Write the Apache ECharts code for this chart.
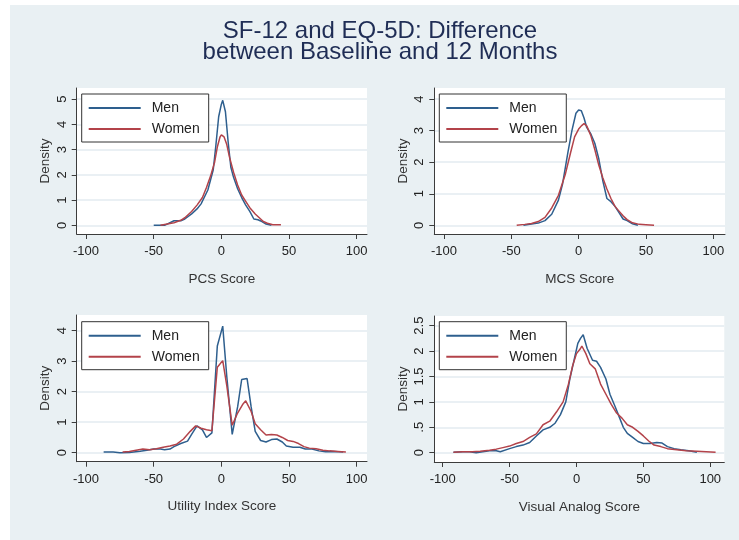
<!DOCTYPE html>
<html>
<head>
<meta charset="utf-8">
<script src="https://cdn.jsdelivr.net/npm/echarts@6/dist/echarts.min.js"></script>
<style>
  body { margin: 0; background: #fff; }
  #wrap { position: relative; width: 739px; height: 540px; background: #fff; }
  #bg { position: absolute; left: 10px; top: 5px; right: 0; bottom: 0; background: #e9f0f3; }
  #chart { position: absolute; left: 0; top: 0; width: 739px; height: 540px; }
</style>
</head>
<body>
<div id="wrap"><div id="bg"></div><div id="chart"></div></div>
<script>
// kernel density estimates: [score difference, density]
var pcsMen = [[-50,0],[-42,0],[-35,0.18],[-30,0.18],[-27,0.25],[-22,0.45],[-18,0.65],[-15,0.85],[-10,1.4],[-6,2.2],[-4,3.2],[-2,4.3],[0,4.8],[1,4.95],[3,4.5],[5,3.3],[7,2.3],[9,1.9],[12,1.45],[15,1.1],[18,0.8],[21,0.55],[24,0.25],[27,0.22],[30,0.15],[33,0.05],[37,0]];
var pcsWomen = [[-45,0],[-40,0.05],[-35,0.1],[-30,0.2],[-27,0.3],[-22,0.55],[-18,0.8],[-14,1.1],[-11,1.5],[-8,1.95],[-5,2.5],[-3,3.1],[-1,3.5],[0,3.58],[2,3.5],[4,3.2],[6,2.7],[9,2.1],[12,1.6],[15,1.2],[18,0.95],[21,0.7],[25,0.45],[28,0.3],[31,0.15],[34,0.08],[38,0.02],[44,0.02]];

var mcsMen = [[-41,0],[-35,0.04],[-30,0.07],[-25,0.15],[-20,0.35],[-15,0.8],[-12,1.3],[-8,2.3],[-5,3.0],[-2,3.55],[0,3.65],[2,3.63],[4,3.4],[6,3.1],[9,2.9],[12,2.6],[15,2.1],[18,1.4],[21,0.85],[24,0.75],[27,0.6],[30,0.4],[33,0.2],[36,0.15],[40,0.05],[44,0]];
var mcsWomen = [[-46,0],[-40,0.03],[-35,0.06],[-30,0.12],[-25,0.25],[-20,0.55],[-15,0.95],[-10,1.6],[-6,2.3],[-3,2.8],[0,3.05],[2,3.15],[4,3.22],[6,3.15],[9,2.85],[12,2.4],[15,1.9],[18,1.5],[21,1.15],[24,0.85],[27,0.6],[30,0.45],[33,0.3],[36,0.18],[40,0.08],[45,0.03],[50,0.02],[56,0]];

var utilMen = [[-87,0.02],[-80,0.02],[-75,0],[-68,0.01],[-60,0.05],[-55,0.08],[-50,0.12],[-45,0.12],[-42,0.1],[-38,0.12],[-35,0.2],[-30,0.3],[-25,0.38],[-22,0.6],[-18,0.88],[-14,0.75],[-11,0.5],[-7,0.65],[-3,3.5],[1,4.15],[4,2.5],[8,0.6],[12,1.5],[15,2.4],[19,2.43],[22,1.5],[25,0.7],[29,0.4],[33,0.35],[37,0.43],[41,0.45],[45,0.35],[48,0.22],[53,0.18],[58,0.18],[62,0.12],[67,0.12],[72,0.06],[77,0.03],[83,0.04],[90,0.02]];
var utilWomen = [[-73,0.02],[-68,0.04],[-63,0.08],[-58,0.12],[-53,0.1],[-48,0.13],[-43,0.18],[-38,0.22],[-33,0.28],[-28,0.45],[-23,0.7],[-19,0.88],[-15,0.8],[-11,0.75],[-7,0.72],[-3,2.8],[1,3.02],[4,2.2],[8,0.9],[12,1.3],[16,1.6],[18,1.7],[22,1.35],[25,0.95],[29,0.75],[33,0.58],[37,0.6],[41,0.58],[45,0.5],[49,0.4],[53,0.37],[57,0.3],[61,0.2],[65,0.15],[70,0.13],[75,0.08],[80,0.06],[86,0.04],[92,0.02]];

var vasMen = [[-92,0.01],[-85,0.02],[-80,0.02],[-75,0],[-70,0.02],[-65,0.04],[-60,0.04],[-57,0.02],[-50,0.08],[-45,0.12],[-40,0.15],[-35,0.2],[-30,0.33],[-25,0.45],[-20,0.5],[-16,0.58],[-12,0.75],[-8,1.0],[-5,1.45],[-2,1.8],[1,2.15],[3,2.25],[5,2.32],[8,2.05],[12,1.82],[15,1.8],[18,1.68],[22,1.45],[25,1.15],[29,0.9],[32,0.7],[35,0.5],[38,0.38],[42,0.3],[46,0.22],[50,0.18],[55,0.18],[60,0.2],[64,0.19],[68,0.12],[73,0.08],[78,0.06],[84,0.04],[90,0.01]];
var vasWomen = [[-92,0.01],[-85,0.02],[-78,0.02],[-72,0.03],[-65,0.05],[-60,0.07],[-55,0.1],[-50,0.13],[-45,0.18],[-40,0.22],[-35,0.3],[-30,0.37],[-25,0.55],[-20,0.62],[-15,0.8],[-10,1.0],[-6,1.35],[-3,1.7],[0,1.95],[3,2.05],[4,2.1],[7,1.95],[10,1.75],[14,1.65],[18,1.35],[22,1.15],[26,0.95],[30,0.78],[34,0.68],[38,0.55],[42,0.5],[46,0.42],[50,0.33],[54,0.23],[58,0.15],[63,0.12],[68,0.08],[75,0.06],[82,0.04],[90,0.03],[97,0.02],[104,0.01]];

var xTicks = [-100, -50, 0, 50, 100];
var yTicks1 = [0, 1, 2, 3, 4, 5];
var yTicks2 = [0, 1, 2, 3, 4];
var yTicks3 = [0, 1, 2, 3, 4];
var yTicks4 = [0, 0.5, 1, 1.5, 2, 2.5];
var xTitles = ['PCS Score', 'MCS Score', 'Utility Index Score', 'Visual Analog Score'];
var seriesNames = ['Men', 'Women'];
var titleText = 'SF-12 and EQ-5D: Difference\nbetween Baseline and 12 Months';

var panels = [
  { men: pcsMen, women: pcsWomen, yTicks: yTicks1, grid: [76.7, 88, 290.3, 146], x: [-106.9, 107.6], y: [-0.344, 5.44], legend: [81.7, 94] },
  { men: mcsMen, women: mcsWomen, yTicks: yTicks2, grid: [434.3, 88, 290.7, 146], x: [-107.2, 108.7], y: [-0.275, 4.35], legend: [439.3, 94] },
  { men: utilMen, women: utilWomen, yTicks: yTicks3, grid: [76.7, 315, 290.3, 146.7], x: [-106.9, 107.6], y: [-0.295, 4.515], legend: [81.7, 321.7] },
  { men: vasMen, women: vasWomen, yTicks: yTicks4, grid: [434.3, 316, 290, 146], x: [-106.3, 110.5], y: [-0.183, 2.69], legend: [439.3, 321.7] }
];

var font = 'Liberation Sans, Arial, sans-serif';
var axisCol = '#3c3c3c';
var colors = ['#2e5f8e', '#b3434a'];

var grids = [], xAxes = [], yAxes = [], series = [], legends = [];
panels.forEach(function(p, i) {
  grids.push({
    left: p.grid[0], top: p.grid[1], width: p.grid[2], height: p.grid[3],
    show: true, backgroundColor: '#fff', borderWidth: 0
  });
  xAxes.push({
    type: 'value', gridIndex: i, min: p.x[0], max: p.x[1],
    name: xTitles[i], nameLocation: 'middle', nameGap: 38,
    nameTextStyle: { color: '#333', fontSize: 13.5, fontFamily: font },
    axisLine: { onZero: false, lineStyle: { color: axisCol, width: 1 } },
    axisTick: { show: true, length: 5, customValues: xTicks, lineStyle: { color: axisCol } },
    axisLabel: { customValues: xTicks, margin: 11, color: '#222', fontSize: 13, fontFamily: font },
    splitLine: { show: false }
  });
  yAxes.push({
    type: 'value', gridIndex: i, min: p.y[0], max: p.y[1],
    name: 'Density', nameLocation: 'middle', nameGap: 24, nameRotate: 90,
    nameTextStyle: { color: '#333', fontSize: 13.5, fontFamily: font },
    axisLine: { show: true, onZero: false, lineStyle: { color: axisCol, width: 1 } },
    axisTick: { show: true, length: 5, customValues: p.yTicks, lineStyle: { color: axisCol } },
    axisLabel: {
      customValues: p.yTicks, rotate: 90, margin: 8, color: '#222', fontSize: 13, fontFamily: font,
      formatter: function(v) { return String(v).replace(/^0\./, '.'); }
    },
    splitLine: { show: true, lineStyle: { color: '#e3ebf0', width: 1.5 } }
  });
  [p.men, p.women].forEach(function(d, k) {
    series.push({
      type: 'line', name: seriesNames[k], xAxisIndex: i, yAxisIndex: i,
      data: d, showSymbol: false, symbol: 'none', smooth: false,
      color: colors[k], lineStyle: { width: 1.5, color: colors[k] },
      animation: false
    });
  });
  legends.push({
    left: p.legend[0], top: p.legend[1], orient: 'vertical',
    data: seriesNames, icon: 'rect', itemWidth: 52, itemHeight: 2, itemGap: 7,
    padding: [7, 9, 6, 7], backgroundColor: '#fff', borderColor: '#333', borderWidth: 1,
    selectedMode: false,
    textStyle: { fontSize: 14, lineHeight: 14, color: '#222', fontFamily: font, padding: [0, 0, 0, 6] }
  });
});

var chart = echarts.init(document.getElementById('chart'));
chart.setOption({
  animation: false,
  // title centred a little right of the page centre, as in the source figure
  graphic: [{
    type: 'text', x: 380, y: 21,
    style: {
      text: titleText, align: 'center', verticalAlign: 'top',
      fill: '#1f2d55', fontSize: 24, lineHeight: 21, fontFamily: font
    }
  }],
  legend: legends,
  grid: grids,
  xAxis: xAxes,
  yAxis: yAxes,
  series: series
});
</script>
</body>
</html>
